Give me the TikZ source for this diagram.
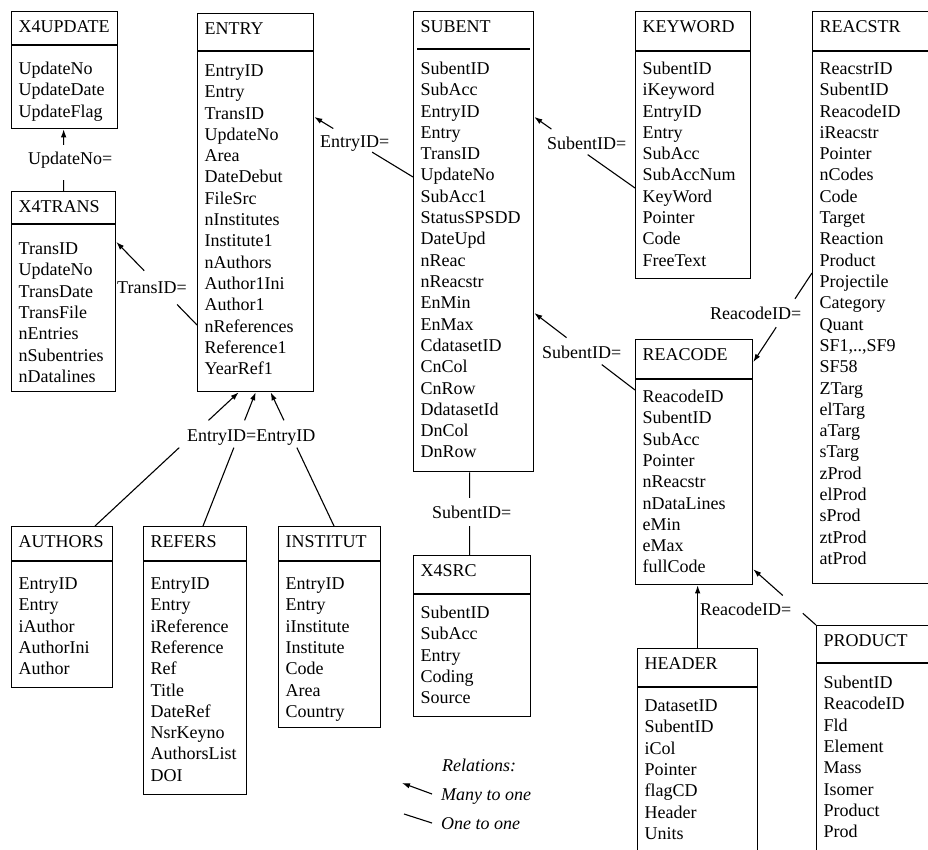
\documentclass[tikz,border=0pt]{standalone}
\usepackage{fontspec}
\setmainfont{Liberation Serif}
\usetikzlibrary{calc,arrows.meta}
\tikzset{
  tbox/.style={draw, line width=1.3pt, inner sep=0pt, anchor=north west},
  fld/.style={anchor=base west, inner sep=0pt},
  con/.style={line width=1.1pt},
  many/.style={con, -{Latex[length=8pt,width=5.5pt]}},
  lbl/.style={anchor=base west, inner sep=0pt},
}
\def\dins{0}
% #1 name, #2 x, #3 y, #4 width, #5 height, #6 divider offset, #7 title, #8 fields
\newcommand\tbl[8]{%
  \node[tbox, minimum width=#4pt, minimum height=#5pt] (#1) at (#2,#3) {};
  \draw[line width=1.3pt] ([xshift=\dins pt, yshift=-#6pt]#1.north west) -- ([xshift=-\dins pt, yshift=-#6pt]#1.north east);
  \node[fld] at ([xshift=7.5pt, yshift=-21.5pt]#1.north west) {#7};
  \foreach \f [count=\i from 0] in {#8} {
    \node[fld] at ([xshift=7.5pt, yshift={-(63.5+\i*21.3)}]#1.north west) {\f};
  }%
}
\newcommand\gapcon[5][con]{%
  \draw[con] (#2) -- ($(#2)!#4!(#3)$);
  \draw[#1] ($(#2)!#5!(#3)$) -- (#3);}
\begin{document}
\begin{tikzpicture}[x=1pt, y=-1pt, font=\fontsize{18}{21.3}\selectfont]
\useasboundingbox (0,0) rectangle (928,850);
\clip (0,0) rectangle (928,850);

\tbl{x4update}{11}{11}{106}{117}{34}{X4UPDATE}{UpdateNo,UpdateDate,UpdateFlag}
\tbl{x4trans}{11}{191}{104}{200}{33}{X4TRANS}{TransID,UpdateNo,TransDate,TransFile,nEntries,nSubentries,nDatalines}
\tbl{entry}{197}{13}{116}{378}{38}{ENTRY}{EntryID,Entry,TransID,UpdateNo,Area,DateDebut,FileSrc,nInstitutes,Institute1,nAuthors,Author1Ini,Author1,nReferences,Reference1,YearRef1}
\def\dins{4}
\tbl{subent}{413}{11}{120}{460}{38}{SUBENT}{SubentID,SubAcc,EntryID,Entry,TransID,UpdateNo,SubAcc1,StatusSPSDD,DateUpd,nReac,nReacstr,EnMin,EnMax,CdatasetID,CnCol,CnRow,DdatasetId,DnCol,DnRow}
\def\dins{0}
\tbl{keyword}{635}{11}{115}{267}{40}{KEYWORD}{SubentID,iKeyword,EntryID,Entry,SubAcc,SubAccNum,KeyWord,Pointer,Code,FreeText}
\tbl{reacstr}{812}{11}{200}{572}{40}{REACSTR}{ReacstrID,SubentID,ReacodeID,iReacstr,Pointer,nCodes,Code,Target,Reaction,Product,Projectile,Category,Quant,{SF1,..,SF9},SF58,ZTarg,elTarg,aTarg,sTarg,zProd,elProd,sProd,ztProd,atProd}
\tbl{reacode}{635}{339}{117}{245}{40}{REACODE}{ReacodeID,SubentID,SubAcc,Pointer,nReacstr,nDataLines,eMin,eMax,fullCode}
\tbl{header}{637}{648}{120}{300}{39}{HEADER}{DatasetID,SubentID,iCol,Pointer,flagCD,Header,Units}
\tbl{product}{816}{625}{200}{300}{38}{PRODUCT}{SubentID,ReacodeID,Fld,Element,Mass,Isomer,Product,Prod}
\tbl{x4src}{413}{555}{117}{161}{39}{X4SRC}{SubentID,SubAcc,Entry,Coding,Source}
\tbl{authors}{11}{526}{101}{161}{35}{AUTHORS}{EntryID,Entry,iAuthor,AuthorIni,Author}
\tbl{refers}{143}{526}{103}{268}{35}{REFERS}{EntryID,Entry,iReference,Reference,Ref,Title,DateRef,NsrKeyno,AuthorsList,DOI}
\tbl{institut}{278}{526}{102}{201}{35}{INSTITUT}{EntryID,Entry,iInstitute,Institute,Code,Area,Country}

% connectors
\gapcon[many]{x4trans.north}{x4trans.north |- x4update.south}{0.175}{0.746}
\node[lbl] at (28,165) {UpdateNo=};
\gapcon[many]{[yshift=-312pt]entry.north west}{[yshift=-51pt]x4trans.north east}{0.247}{0.654}
\node[lbl] at (117,293) {TransID=};
\gapcon[many]{[yshift=-166pt]subent.north west}{[yshift=-104pt]entry.north east}{0.414}{0.808}
\node[lbl] at (320,148) {EntryID=};
\gapcon[many]{[yshift=-177pt]keyword.north west}{[yshift=-106pt]subent.north east}{0.47}{0.83}
\node[lbl] at (547,150) {SubentID=};
\gapcon[many]{[yshift=-51pt]reacode.north west}{[yshift=-302pt]subent.north east}{0.33}{0.68}
\node[lbl] at (542,358) {SubentID=};
\gapcon[many]{[yshift=-262pt]reacstr.north west}{[yshift=-23pt]reacode.north east}{0.29}{0.61}
\node[lbl] at (710,319) {ReacodeID=};
\gapcon[many]{product.north west}{[yshift=16pt]reacode.south east}{0.21}{0.53}
\draw[many] (header.north) -- (header.north |- reacode.south);
\node[lbl] at (700,615) {ReacodeID=};
\gapcon{[xshift=-4pt]subent.south}{[xshift=-4pt]subent.south |- x4src.north}{0.31}{0.65}
\node[lbl] at (432,518) {SubentID=};
\gapcon[many]{[xshift=84pt]authors.north west}{[xshift=-17pt]entry.south}{0.586}{0.79}
\gapcon[many]{[xshift=60pt]refers.north west}{entry.south}{0.586}{0.79}
\gapcon[many]{[xshift=56pt]institut.north west}{[xshift=15pt]entry.south}{0.586}{0.79}
\node[lbl] at (187,441) {EntryID=EntryID};

% legend
\node[lbl, font=\fontsize{18}{21.3}\selectfont\itshape] (rel) at (442,771) {Relations:};
\node[lbl, font=\fontsize{18}{21.3}\selectfont\itshape] (mto) at (441,800) {Many to one};
\node[lbl, font=\fontsize{18}{21.3}\selectfont\itshape] (oto) at (441,829) {One to one};
\draw[many] ([xshift=-9pt, yshift=6pt]mto.base west) -- ++(-30,-11);
\draw[con] ([xshift=-37pt, yshift=15pt]oto.base west) -- ++(28,9);
\end{tikzpicture}
\end{document}
